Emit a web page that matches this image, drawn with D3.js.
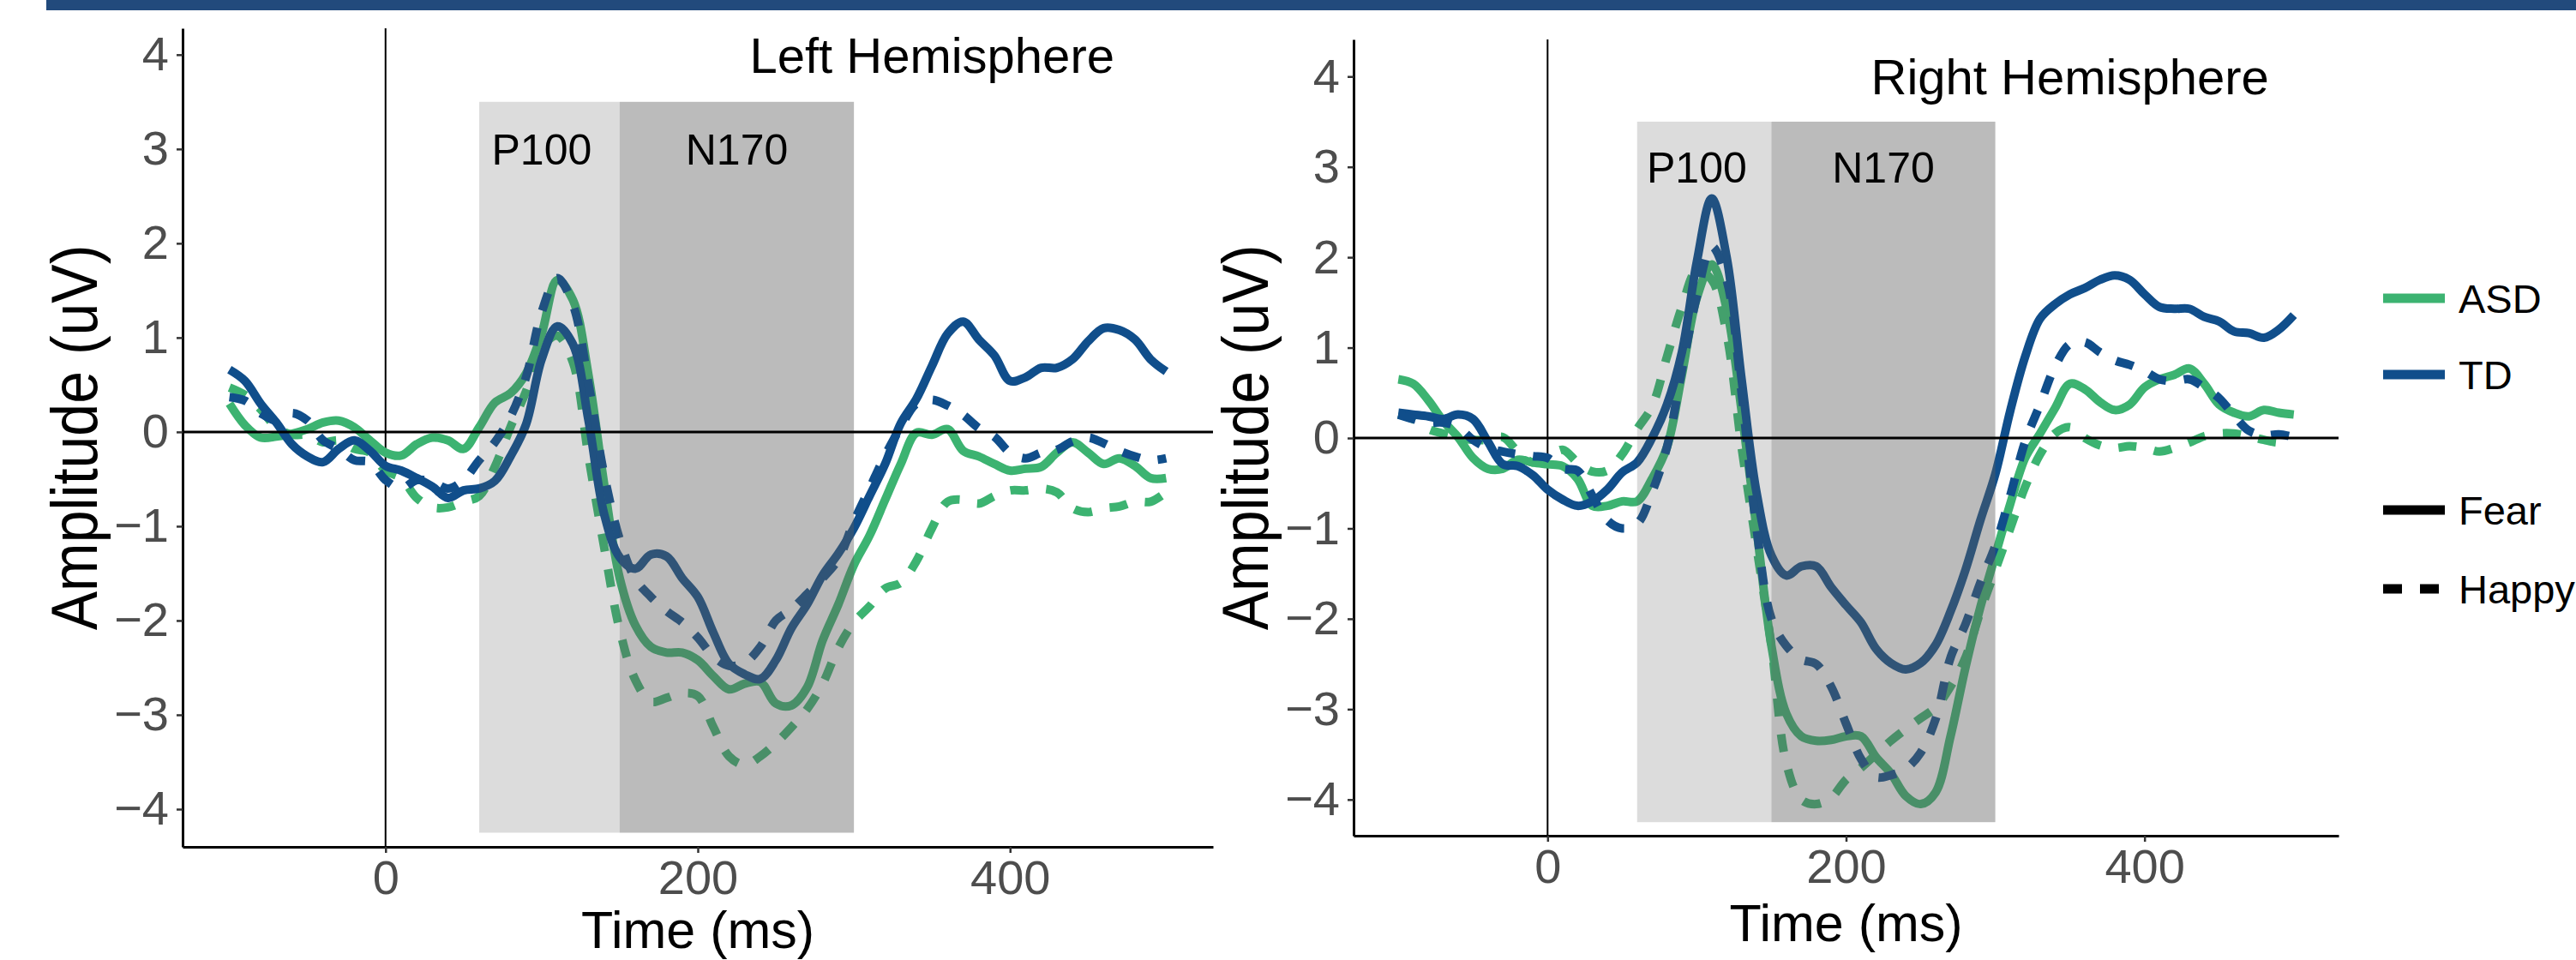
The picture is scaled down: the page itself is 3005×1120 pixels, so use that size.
<!DOCTYPE html>
<html>
<head>
<meta charset="utf-8">
<script src="https://cdn.jsdelivr.net/npm/d3@7"></script>
<style>
  html, body { margin: 0; padding: 0; background: #fff; }
  svg { display: block; font-family: "Liberation Sans", Arial, Helvetica, sans-serif; }
</style>
</head>
<body>
<div class="erp-plot"></div>
<script>
// ERP grand averages, amplitude (uV) every 10 ms from -100 to 500 ms
var timeMs = [-100, -90, -80, -70, -60, -50, -40, -30, -20, -10,
    0, 10, 20, 30, 40, 50, 60, 70, 80, 90,
    100, 110, 120, 130, 140, 150, 160, 170, 180, 190,
    200, 210, 220, 230, 240, 250, 260, 270, 280, 290,
    300, 310, 320, 330, 340, 350, 360, 370, 380, 390,
    400, 410, 420, 430, 440, 450, 460, 470, 480, 490, 500];

var leftAsdFear = [0.30, 0.07, -0.06, -0.05, -0.02, 0.03, 0.10, 0.12, 0.05, -0.09,
    -0.22, -0.25, -0.13, -0.06, -0.09, -0.18, 0.05, 0.31, 0.41, 0.62,
    1.04, 1.61, 1.40, 0.60, -0.55, -1.55, -2.05, -2.28, -2.34, -2.34,
    -2.42, -2.59, -2.73, -2.67, -2.65, -2.88, -2.90, -2.71, -2.21, -1.83,
    -1.41, -1.10, -0.72, -0.34, -0.01, -0.03, 0.03, -0.20, -0.26, -0.34,
    -0.41, -0.39, -0.37, -0.22, -0.11, -0.22, -0.34, -0.28, -0.36, -0.49, -0.49];
var leftAsdHappy = [0.47, 0.39, 0.24, 0.05, -0.03, -0.03, -0.11, -0.09, -0.18, -0.22,
    -0.41, -0.49, -0.70, -0.80, -0.80, -0.74, -0.68, -0.37, 0.05, 0.43,
    0.89, 1.02, 0.74, -0.26, -1.22, -2.10, -2.63, -2.86, -2.82, -2.77,
    -2.80, -3.13, -3.44, -3.53, -3.44, -3.30, -3.13, -2.94, -2.67, -2.29,
    -2.02, -1.85, -1.66, -1.60, -1.37, -1.02, -0.74, -0.72, -0.76, -0.68,
    -0.62, -0.62, -0.60, -0.64, -0.81, -0.85, -0.81, -0.79, -0.74, -0.74, -0.64];
var leftTdFear = [0.66, 0.54, 0.30, 0.10, -0.13, -0.26, -0.32, -0.18, -0.09, -0.20,
    -0.36, -0.41, -0.49, -0.58, -0.70, -0.62, -0.60, -0.52, -0.26, 0.08,
    0.77, 1.12, 0.93, 0.12, -0.87, -1.33, -1.45, -1.30, -1.32, -1.55,
    -1.75, -2.13, -2.46, -2.57, -2.62, -2.42, -2.08, -1.83, -1.52, -1.29,
    -1.02, -0.68, -0.34, 0.09, 0.35, 0.70, 1.04, 1.17, 0.98, 0.81,
    0.54, 0.58, 0.68, 0.68, 0.77, 0.96, 1.10, 1.08, 0.98, 0.77, 0.64];
var leftTdHappy = [0.37, 0.33, 0.20, 0.12, 0.20, 0.12, -0.09, -0.18, -0.30, -0.32,
    -0.51, -0.60, -0.51, -0.53, -0.60, -0.51, -0.30, -0.11, 0.16, 0.58,
    1.27, 1.63, 1.35, 0.51, -0.45, -1.14, -1.56, -1.75, -1.90, -2.02,
    -2.18, -2.38, -2.48, -2.45, -2.28, -2.00, -1.88, -1.72, -1.55, -1.35,
    -0.95, -0.60, -0.25, 0.05, 0.30, 0.34, 0.28, 0.18, 0.04, -0.05,
    -0.22, -0.28, -0.22, -0.19, -0.10, -0.06, -0.12, -0.20, -0.26, -0.30, -0.28];

var rightAsdFear = [0.65, 0.60, 0.42, 0.19, 0.01, -0.22, -0.34, -0.34, -0.24, -0.27,
    -0.29, -0.31, -0.45, -0.75, -0.75, -0.70, -0.70, -0.45, -0.10, 0.70,
    1.55, 1.92, 1.43, 0.30, -1.00, -2.30, -3.05, -3.30, -3.35, -3.34,
    -3.30, -3.30, -3.53, -3.71, -3.96, -4.05, -3.92, -3.30, -2.54, -1.87,
    -1.30, -0.73, -0.22, 0.05, 0.33, 0.60, 0.54, 0.40, 0.31, 0.37,
    0.56, 0.65, 0.70, 0.77, 0.60, 0.37, 0.28, 0.24, 0.31, 0.28, 0.26];
var rightAsdHappy = [0.26, 0.21, 0.10, 0.05, 0.01, -0.02, -0.02, 0.01, -0.15, -0.27,
    -0.22, -0.13, -0.27, -0.37, -0.36, -0.18, 0.10, 0.35, 0.90, 1.45,
    1.85, 1.75, 1.15, -0.10, -1.20, -2.30, -3.60, -4.00, -4.05, -3.98,
    -3.78, -3.65, -3.50, -3.35, -3.22, -3.10, -2.98, -2.75, -2.43, -1.92,
    -1.46, -1.00, -0.54, -0.18, 0.05, 0.12, 0.00, -0.08, -0.11, -0.09,
    -0.11, -0.15, -0.11, -0.05, 0.02, 0.05, 0.05, 0.02, -0.02, -0.05, -0.03];
var rightTdFear = [0.28, 0.26, 0.24, 0.21, 0.26, 0.21, -0.04, -0.29, -0.31, -0.41,
    -0.57, -0.68, -0.75, -0.70, -0.57, -0.38, -0.27, 0.00, 0.37, 0.95,
    1.95, 2.65, 2.00, 0.65, -0.60, -1.30, -1.52, -1.42, -1.42, -1.65,
    -1.85, -2.04, -2.33, -2.49, -2.56, -2.49, -2.29, -1.92, -1.46, -0.91,
    -0.40, 0.30, 0.90, 1.32, 1.48, 1.59, 1.66, 1.75, 1.80, 1.75,
    1.59, 1.45, 1.43, 1.43, 1.34, 1.29, 1.18, 1.16, 1.11, 1.20, 1.36];
var rightTdHappy = [0.26, 0.21, 0.17, 0.17, 0.12, -0.02, -0.11, -0.15, -0.18, -0.20,
    -0.22, -0.34, -0.36, -0.64, -0.91, -1.00, -0.95, -0.60, -0.10, 0.75,
    1.57, 2.12, 1.75, 0.50, -1.00, -2.00, -2.30, -2.45, -2.50, -2.75,
    -3.16, -3.55, -3.75, -3.73, -3.66, -3.48, -3.11, -2.43, -2.06, -1.60,
    -1.19, -0.64, -0.04, 0.37, 0.79, 1.04, 1.06, 0.95, 0.86, 0.81,
    0.74, 0.65, 0.63, 0.65, 0.56, 0.44, 0.25, 0.08, 0.03, 0.04, 0.01];

var groups = ["ASD", "TD"];
var emotions = ["Fear", "Happy"];
var componentNames = ["P100", "N170"];
var componentStart = [60, 150];
var componentEnd = [150, 300];
var componentLabelAt = [100, 225];
var xTicks = [0, 200, 400];
var yTicks = [-4, -3, -2, -1, 0, 1, 2, 3, 4];

var W = 3005, H = 1120;
var FONT_TICK = 56, FONT_TITLE = 61;

var groupColor = d3.scaleOrdinal().domain(groups).range(["#3cb371", "#104e8b"]);
var emotionDash = d3.scaleOrdinal().domain(emotions).range(["none", "21,21"]);

var panels = [
    { title: "Left Hemisphere", left: 213, right: 1415, top: 33, bottom: 988, yDomain: [-4.40, 4.28],
      series: [leftAsdFear, leftAsdHappy, leftTdFear, leftTdHappy] },
    { title: "Right Hemisphere", left: 1579, right: 2728, top: 46, bottom: 975, yDomain: [-4.40, 4.41],
      series: [rightAsdFear, rightAsdHappy, rightTdFear, rightTdHappy] }
];

var svg = d3.select(".erp-plot").append("svg")
    .attr("width", W)
    .attr("height", H);

svg.append("rect").attr("width", W).attr("height", H).attr("fill", "#fff");

// dark banner along the top edge
svg.append("rect")
    .attr("x", 54).attr("y", 0)
    .attr("width", W - 54).attr("height", 12)
    .attr("fill", "#224a7c");

panels.forEach(function(p) {
    var x = d3.scaleLinear().domain([-130, 530]).range([p.left, p.right]);
    var y = d3.scaleLinear().domain(p.yDomain).range([p.bottom, p.top]);
    var g = svg.append("g");

    // stimulus onset
    g.append("line")
        .attr("x1", x(0)).attr("x2", x(0))
        .attr("y1", p.top).attr("y2", p.bottom)
        .attr("stroke", "#000").attr("stroke-width", 2);

    var line = d3.line()
        .x(function(d) { return x(d[0]); })
        .y(function(d) { return y(d[1]); })
        .curve(d3.curveCatmullRom.alpha(0.5));

    // order: ASD Fear, ASD Happy, TD Fear, TD Happy
    p.series.forEach(function(vals, i) {
        var grp = groups[Math.floor(i / 2)], emo = emotions[i % 2];
        g.append("path")
            .datum(d3.zip(timeMs, vals))
            .attr("d", line)
            .attr("fill", "none")
            .attr("stroke", groupColor(grp))
            .attr("stroke-width", 10)
            .attr("stroke-linejoin", "round")
            .attr("stroke-dasharray", emotionDash(emo));
    });

    // component windows, translucent, drawn over the waves
    g.selectAll(".win")
        .data(componentNames)
        .enter().append("rect")
        .attr("x", function(d, i) { return x(componentStart[i]); })
        .attr("width", function(d, i) { return x(componentEnd[i]) - x(componentStart[i]); })
        .attr("y", y(3.5))
        .attr("height", y(-4.25) - y(3.5))
        .attr("fill", "#5d5d5d")
        .attr("fill-opacity", function(d, i) { return i === 0 ? 0.216 : 0.42; });

    g.append("line")
        .attr("x1", p.left).attr("x2", p.right)
        .attr("y1", y(0)).attr("y2", y(0))
        .attr("stroke", "#000").attr("stroke-width", 3);

    g.selectAll(".winlabel")
        .data(componentNames)
        .enter().append("text")
        .attr("x", function(d, i) { return x(componentLabelAt[i]); })
        .attr("y", y(3))
        .attr("dy", "0.36em")
        .attr("text-anchor", "middle")
        .attr("font-size", 50)
        .attr("fill", "#000")
        .text(function(d) { return d; });

    g.append("text")
        .attr("x", x(350)).attr("y", y(4))
        .attr("dy", "0.36em")
        .attr("text-anchor", "middle")
        .attr("font-size", 58)
        .attr("fill", "#000")
        .text(p.title);

    // axes
    var yAxis = g.append("g")
        .attr("transform", "translate(" + p.left + ",0)")
        .call(d3.axisLeft(y).tickValues(yTicks).tickSize(7).tickSizeOuter(0).tickPadding(9)
            .tickFormat(function(d) { return d < 0 ? "\u2212" + Math.abs(d) : d; }));
    var xAxis = g.append("g")
        .attr("transform", "translate(0," + p.bottom + ")")
        .call(d3.axisBottom(x).tickValues(xTicks).tickSize(7).tickSizeOuter(0).tickPadding(8));

    [yAxis, xAxis].forEach(function(a) {
        a.attr("font-family", null).attr("font-size", FONT_TICK);
        a.select(".domain").attr("stroke", "#000").attr("stroke-width", 3);
        a.selectAll(".tick line").attr("stroke", "#333").attr("stroke-width", 2.5);
        a.selectAll(".tick text").attr("fill", "#4d4d4d");
    });
    xAxis.selectAll(".tick text").attr("dy", "0.71em");

    // kept just inside the bottom edge so the brackets are not clipped
    g.append("text")
        .attr("x", (p.left + p.right) / 2)
        .attr("y", Math.min(p.bottom + 123, H - 14))
        .attr("text-anchor", "middle")
        .attr("font-size", FONT_TITLE)
        .attr("fill", "#000")
        .text("Time (ms)");

    g.append("text")
        .attr("transform", "translate(" + (p.left - 100) + "," + ((p.top + p.bottom) / 2) + ") rotate(-90) scale(1,1.12)")
        .attr("text-anchor", "middle")
        .attr("font-size", 68)
        .attr("fill", "#000")
        .text("Amplitude (uV)");
});

// legend: colour for group, line type for emotion
var legend = svg.append("g").attr("transform", "translate(2780,0)");
var legendRows = [
    { label: "ASD", color: groupColor("ASD"), dash: "none", y: 348 },
    { label: "TD", color: groupColor("TD"), dash: "none", y: 437 },
    { label: "Fear", color: "#000", dash: emotionDash("Fear"), y: 595 },
    { label: "Happy", color: "#000", dash: emotionDash("Happy"), y: 687 }
];
var row = legend.selectAll(".row")
    .data(legendRows)
    .enter().append("g")
    .attr("transform", function(d) { return "translate(0," + d.y + ")"; });
row.append("line")
    .attr("x1", 0).attr("x2", 72)
    .attr("stroke", function(d) { return d.color; })
    .attr("stroke-width", 11)
    .attr("stroke-dasharray", function(d) { return d.dash === "none" ? null : "22,21"; });
row.append("text")
    .attr("x", 88)
    .attr("dy", "0.36em")
    .attr("font-size", 47)
    .attr("fill", "#000")
    .text(function(d) { return d.label; });
</script>
</body>
</html>
